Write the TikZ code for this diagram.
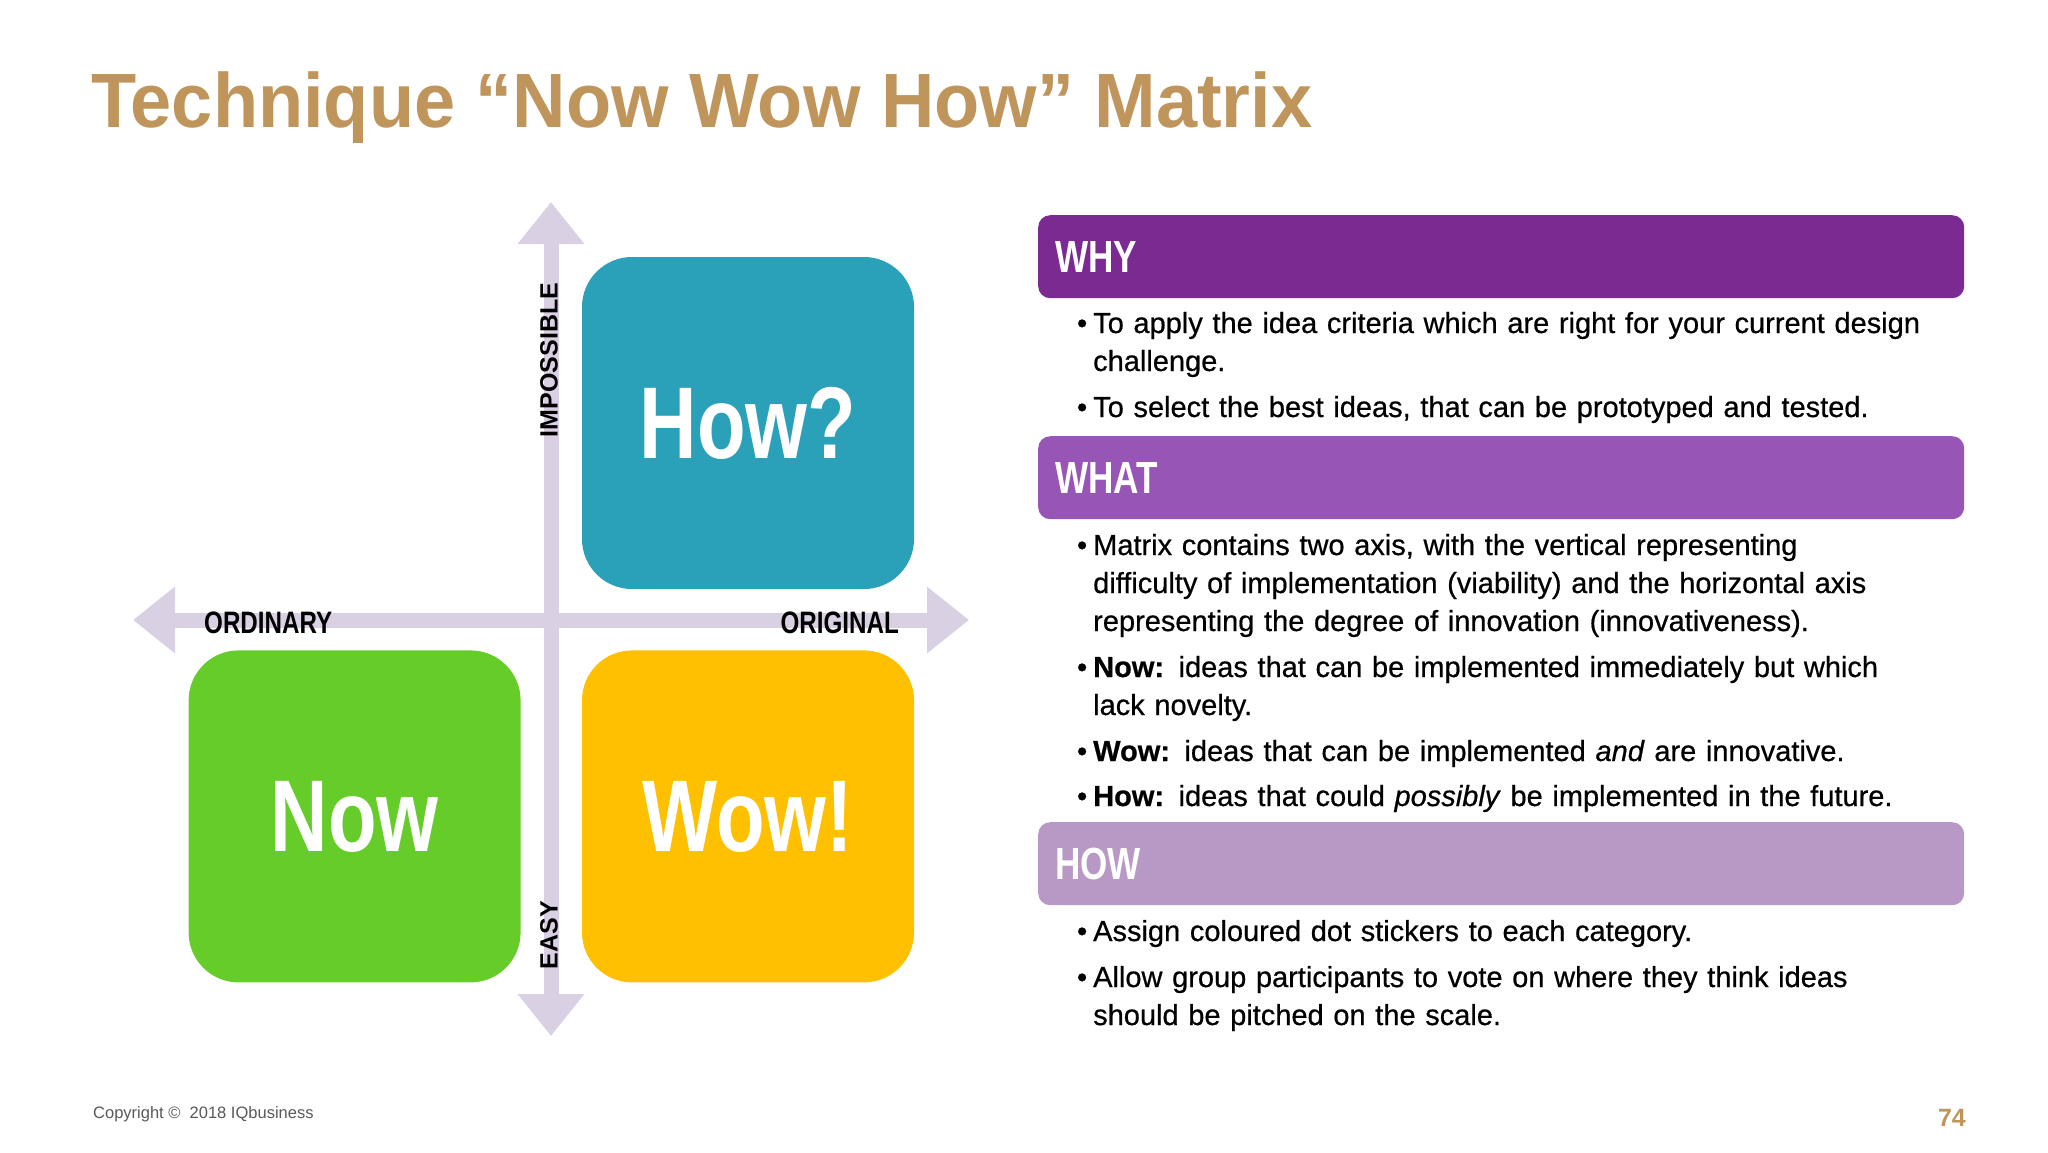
\documentclass[tikz,border=0pt]{standalone}
\usepackage{fontspec}
\setmainfont{Liberation Sans}
\newfontfamily\condfont[FakeStretch=0.78]{Liberation Sans}
\newfontfamily\titlefont[FakeStretch=0.96]{Liberation Sans}
\newfontfamily\bodyfont[FakeBold=0.6]{Liberation Sans}
\usetikzlibrary{positioning,arrows.meta}
\definecolor{NWGold}{HTML}{BF955B}
\definecolor{NWAxis}{HTML}{D9D0E3}
\definecolor{NWTeal}{HTML}{2AA1B9}
\definecolor{NWGreen}{HTML}{66CC29}
\definecolor{NWAmber}{HTML}{FEC000}
\definecolor{NWWhy}{HTML}{7B2A92}
\definecolor{NWWhat}{HTML}{9756B6}
\definecolor{NWHow}{HTML}{B899C6}
\definecolor{NWGrey}{HTML}{595959}
\newcommand{\dotitem}{\leavevmode\llap{\textbullet\hspace{6pt}}}

\begin{document}
\begin{tikzpicture}[x=1pt,y=-1pt,node distance=61pt]
  \tikzstyle{quad}=[rounded corners=50pt,minimum width=332pt,minimum height=332pt,
    inner sep=0pt,text=white,font=\condfont\bfseries\fontsize{102}{102}\selectfont]
  \tikzstyle{axisline}=[draw=NWAxis,line width=15pt,
    {Triangle[width=64pt,length=42pt]}-{Triangle[width=64pt,length=42pt]}]
  \tikzstyle{axlab}=[rotate=90,inner sep=0pt,font=\bfseries\fontsize{25}{25}\selectfont]
  \tikzstyle{dirlab}=[inner sep=0pt,font=\condfont\bfseries\fontsize{31}{31}\selectfont]
  \tikzstyle{hdr}=[anchor=north west,rounded corners=12pt,minimum height=83pt,
    text width=892pt,inner xsep=17pt,inner ysep=0pt,align=left,text=white,
    font=\condfont\bfseries\fontsize{45}{45}\selectfont]
  \tikzstyle{bul}=[anchor=base west,inner sep=0pt,text width=870pt,align=left,
    font=\bodyfont\fontsize{29}{38}\selectfont]
  \useasboundingbox[fill=white] (0,0) rectangle (2048,1152);

  % title
  \node[anchor=base west,inner sep=0pt,text=NWGold,
    font=\titlefont\bfseries\fontsize{77}{80}\selectfont] (title) at (91,127)
    {Technique “Now Wow How” Matrix};

  % axes
  \coordinate (up) at (551,202);
  \coordinate (down) at (551,1036);
  \coordinate (lt) at (133,620);
  \coordinate (rt) at (969,620);
  \draw[axisline] (down) -- (up);
  \draw[axisline] (lt) -- (rt);

  % quadrants
  \node[quad,fill=NWTeal] (how) at (748,423) {How?};
  \node[quad,fill=NWAmber,below=of how] (wow) {Wow!};
  \node[quad,fill=NWGreen,left=of wow] (now) {Now};

  \node[axlab] (imp) at (549,360) {IMPOSSIBLE};
  \node[axlab] (easy) at (549,935) {EASY};
  \node[dirlab,anchor=base west] (ord) at (204,633) {ORDINARY};
  \node[dirlab,anchor=base east] (orig) at (899,633) {ORIGINAL};

  % why / what / how
  \node[hdr,fill=NWWhy] (why) at (1038,215) {WHY};
  \node[bul] (why1) at (1093,333)
    {\dotitem To apply the idea criteria which are right for your current design\\challenge.};
  \node[bul] (why2) at (1093,417)
    {\dotitem To select the best ideas, that can be prototyped and tested.};

  \node[hdr,fill=NWWhat] (what) at (1038,436) {WHAT};
  \node[bul] (what1) at (1093,555)
    {\dotitem Matrix contains two axis, with the vertical representing\\
     difficulty of implementation (viability) and the horizontal axis\\
     representing the degree of innovation (innovativeness).};
  \node[bul] (what2) at (1093,677)
    {\dotitem\textbf{Now:} ideas that can be implemented immediately but which\\lack novelty.};
  \node[bul] (what3) at (1093,761)
    {\dotitem\textbf{Wow:} ideas that can be implemented \textit{and} are innovative.};
  \node[bul] (what4) at (1093,806)
    {\dotitem\textbf{How:} ideas that could \textit{possibly} be implemented in the future.};

  \node[hdr,fill=NWHow] (howbar) at (1038,822) {HOW};
  \node[bul] (how1) at (1093,941)
    {\dotitem Assign coloured dot stickers to each category.};
  \node[bul] (how2) at (1093,987)
    {\dotitem Allow group participants to vote on where they think ideas\\should be pitched on the scale.};

  % footer
  \node[anchor=base west,inner sep=0pt,text=NWGrey,font=\fontsize{16.5}{18}\selectfont]
    (copy) at (93,1118) {Copyright © \ 2018 IQbusiness};
  \node[anchor=base east,inner sep=0pt,text=NWGold,font=\bfseries\fontsize{25}{25}\selectfont]
    (page) at (1966,1126) {74};
\end{tikzpicture}
\end{document}
